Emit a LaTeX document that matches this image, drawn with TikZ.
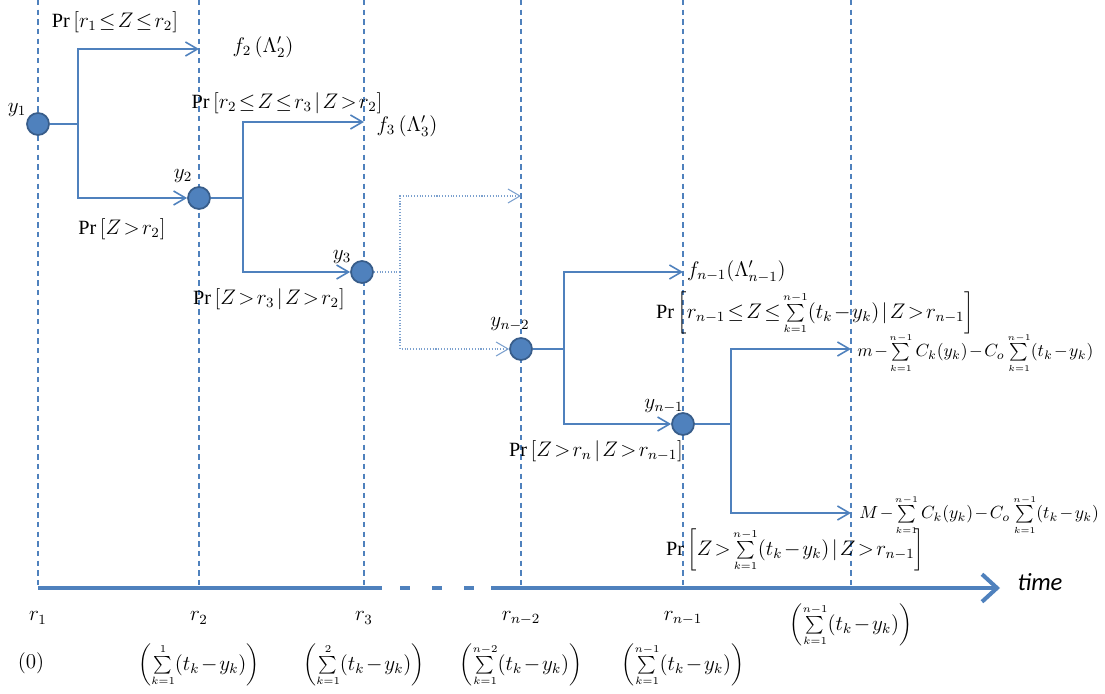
\documentclass[tikz,border=0pt]{standalone}
\usepackage{fontspec}
\setmainfont{Liberation Serif}
\newfontfamily\timefont{Carlito}
\usetikzlibrary{arrows.meta}
\definecolor{offblue}{HTML}{4F81BD}
\definecolor{offdark}{HTML}{385D8A}
\thickmuskip=2mu
\medmuskip=1.5mu
\newcommand\sumk[1]{\sum\limits_{\scriptscriptstyle k=1}^{\scriptscriptstyle #1}}

\begin{document}
\begin{tikzpicture}[x=0.2mm,y=-0.2mm,font=\fontsize{11.5}{13}\selectfont,
    guide/.style={offblue,line width=0.6pt,dash pattern=on 3pt off 2.5pt},
    branch/.style={offblue,line width=0.9pt},
    faint/.style={offblue!75,line width=0.6pt,densely dotted},
    tip/.style={-{Straight Barb[length=2.4mm,width=2.8mm]}},
    axis/.style={offblue,line width=2.3pt},
    payoff/.style={anchor=west,inner sep=0pt,font=\fontsize{10}{12}\selectfont},
    state/.style={circle,fill=offblue,draw=offdark,line width=1pt,minimum size=4.4mm,inner sep=0pt}]
  \useasboundingbox (0,0) rectangle (1105,694);
  \def\gap{(t_k-y_k)}   % repeated bracket
  \foreach \x in {38,199,364,521,683,851}
    \draw[guide] (\x,0) -- (\x,585);
  % time axis, broken between r_3 and r_{n-2}
  \coordinate (t0) at (38,588);  \coordinate (t1) at (382,588);
  \coordinate (t2) at (400,588); \coordinate (t3) at (480,588);
  \coordinate (t4) at (491,588); \coordinate (t5) at (1000,588);
  \draw[axis] (t0) -- (t1);
  \draw[axis,dash pattern=on 2mm off 4.4mm] (t2) -- (t3);
  \draw[axis,-{Straight Barb[length=3mm,width=5.5mm]}] (t4) -- (t5);
  \node[font=\fontsize{14}{16}\selectfont\timefont\itshape] (time) at (1040,582) {time};

  % decision points
  \node[state] (y1) at (38,124) {};
  \node[state] (y2) at (199,198) {};
  \node[state] (y3) at (362,272) {};
  \node[state] (yn2) at (521,349) {};
  \node[state] (yn1) at (683,424) {};
  \node (ly1) at (17,110) {$y_1$};
  \node (ly2) at (183,176) {$y_2$};
  \node (ly3) at (342,257) {$y_3$};
  \node (lyn2) at (510,324) {$y_{n-2}$};
  \node (lyn1) at (664,406) {$y_{n-1}$};

  \foreach \i/\x/\y in {1/78/124,2/243/198,3/400/272,4/564/349,5/731/424}
    \coordinate (s\i) at (\x,\y);
  \foreach \i/\x/\y in {2/199/49,3/364/122,4/521/196,5/683/272,6/851/349}
    \coordinate (u\i) at (\x,\y);
  \coordinate (d6) at (851,513);

  \draw[branch] (y1) -- (s1);
  \draw[branch,tip] (s1) |- (u2);
  \draw[branch,tip] (s1) |- (y2);
  \draw[branch] (y2) -- (s2);
  \draw[branch,tip] (s2) |- (u3);
  \draw[branch,tip] (s2) |- (y3);
  \draw[faint] (y3) -- (s3);
  \draw[faint,tip] (s3) |- (u4);
  \draw[faint,tip] (s3) |- (yn2);
  \draw[branch] (yn2) -- (s4);
  \draw[branch,tip] (s4) |- (u5);
  \draw[branch,tip] (s4) |- (yn1);
  \draw[branch] (yn1) -- (s5);
  \draw[branch,tip] (s5) |- (u6);
  \draw[branch,tip] (s5) |- (d6);

  % branch probabilities and payoffs
  \node (p12) at (115,22) {$\Pr\left[r_1\le Z\le r_2\right]$};
  \node (f2) at (263,47) {$f_2\left(\Lambda_2'\right)$};
  \node (p23) at (287,103) {$\Pr\left[r_2\le Z\le r_3\mid Z>r_2\right]$};
  \node (f3) at (407,126) {$f_3\left(\Lambda_3'\right)$};
  \node (q2) at (122,229) {$\Pr\left[Z>r_2\right]$};
  \node (q3) at (269,299) {$\Pr\left[Z>r_3\mid Z>r_2\right]$};
  \node[anchor=west,inner sep=1pt] (fn1) at (685,272) {$f_{n-1}(\Lambda_{n-1}')$};
  \node (pn1) at (815,313) {$\Pr\left[r_{n-1}\le Z\le\sumk{n-1}\gap\mid Z>r_{n-1}\right]$};
  \node[payoff] (gm) at (857,353) {$m-\sumk{n-1}C_k(y_k)-C_o\sumk{n-1}\gap$};
  \node (qn) at (596,451) {$\Pr\left[Z>r_n\mid Z>r_{n-1}\right]$};
  \node[payoff] (gM) at (859,515) {$M-\sumk{n-1}C_k(y_k)-C_o\sumk{n-1}\gap$};
  \node (qn1) at (795,550) {$\Pr\left[Z>\sumk{n-1}\gap\mid Z>r_{n-1}\right]$};

  % thresholds under the axis
  \foreach \x/\i/\r in {38/1/r_1,199/2/r_2,364/3/r_3,521/n2/r_{n-2},683/n1/r_{n-1}}
    \node (r\i) at (\x,618) {$\r$};
  \node (c1) at (31,663) {$(0)$};
  \foreach \x/\i/\u in {199/2/1,364/3/2,521/n2/n-2,683/n1/n-1}
    \node (c\i) at (\x,665) {$\left(\sumk{\u}\gap\right)$};
  \node (cn) at (851,625) {$\left(\sumk{n-1}\gap\right)$};
\end{tikzpicture}
\end{document}
